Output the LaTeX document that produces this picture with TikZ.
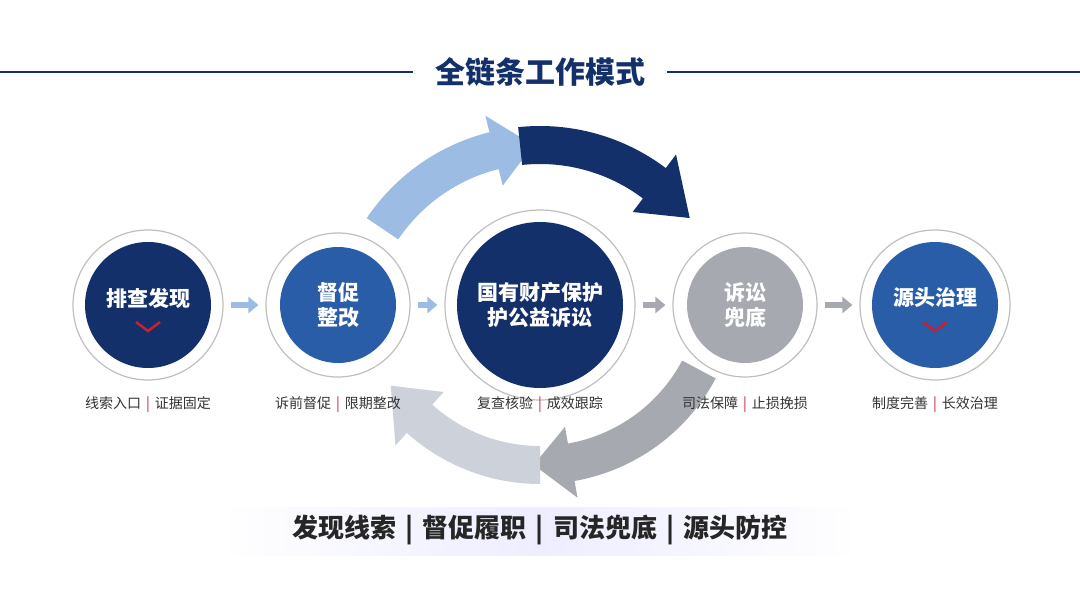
\documentclass[tikz,border=0pt]{standalone}
\usepackage{fontspec}
\setmainfont{Noto Sans CJK SC}
\usetikzlibrary{arrows.meta}
\definecolor{navy}{HTML}{14306B}
\definecolor{midblue}{HTML}{2A5DA8}
\definecolor{lightblue}{HTML}{9DBCE3}
\definecolor{greyc}{HTML}{A6A9AF}
\definecolor{lightgrey}{HTML}{CDD2DA}
\definecolor{redc}{HTML}{C8202E}
% curved band arrow: centre, radius, start angle, head base angle, tip angle, colour
\newcommand\bandarrow[6]{%
  \fill[#6] ($#1+(#3:#2+19)$) arc[start angle=#3,end angle=#4,radius=#2+19]
    -- ($#1+(#4:#2+36)$) -- ($#1+(#5:#2)$) -- ($#1+(#4:#2-36)$)
    -- ($#1+(#4:#2-19)$) arc[start angle=#4,end angle=#3,radius=#2-19] -- cycle;}
\newcommand\sep[1]{\hspace{0.35em}{\color{#1}|}\hspace{0.35em}}
\usetikzlibrary{calc}
\begin{document}
\begin{tikzpicture}[x=1pt,y=1pt,
  ring/.style={circle,draw=black!25,line width=1.2,fill=white,minimum size=#1},
  core/.style={circle,fill=#1,text=white,font=\bfseries\fontsize{21}{25}\selectfont,align=center},
  subtext/.style={font=\fontsize{14}{16}\selectfont,text=black!80},
  nextarrow/.style={line width=6,-{Triangle[width=16,length=10]},shorten <=7,shorten >=7}]
\useasboundingbox (0,0) rectangle (1080,-607);
\fill[white] (0,0) rectangle (1080,-607);

% title
\node[font=\bfseries\fontsize{30}{34}\selectfont,text=navy] (title) at (540,-72) {全链条工作模式};
\draw[navy,line width=1.5] (0,-72) -- ([xshift=-18]title.west);
\draw[navy,line width=1.5] ([xshift=18]title.east) -- (1080,-72);

% big arcs
\bandarrow{(540,-335)}{190}{146}{104}{92}{lightblue}
\bandarrow{(540,-335)}{190}{96}{53}{38}{navy}
\bandarrow{(540,-285)}{180}{-28}{-80}{-92}{greyc}
\bandarrow{(540,-285)}{180}{-90}{-132}{-146}{lightgrey}

% circles
\node[ring=150] (r1) at (148,-305) {};
\node[ring=144] (r2) at (338,-305) {};
\node[ring=190] (r3) at (540,-305) {};
\node[ring=144] (r4) at (745,-305) {};
\node[ring=150] (r5) at (935,-305) {};
\node[core=navy,minimum size=126] (c1) at (r1) {};
\node[core=midblue,minimum size=116] (c2) at (r2) {督促\\整改};
\node[core=navy,minimum size=166] (c3) at (r3) {国有财产保护\\护公益诉讼};
\node[core=greyc,minimum size=116] (c4) at (r4) {诉讼\\兜底};
\node[core=midblue,minimum size=126] (c5) at (r5) {};
\node[core=none,inner sep=0] (t1) at (148,-298) {排查发现};
\node[core=none,inner sep=0] (t5) at (935,-298) {源头治理};
\draw[redc,line width=2.5] (136,-322) -- (148,-331) -- (160,-322);
\draw[redc,line width=2.5] (923,-322) -- (935,-331) -- (947,-322);

% steps
\draw[nextarrow,lightblue] (r1) -- (r2);
\draw[nextarrow,lightblue] (r2) -- (r3);
\draw[nextarrow,greyc] (r3) -- (r4);
\draw[nextarrow,greyc] (r4) -- (r5);

% captions
\node[subtext] (k1) at (148,-405) {线索入口\sep{redc}证据固定};
\node[subtext] (k2) at (338,-405) {诉前督促\sep{redc}限期整改};
\node[subtext] (k3) at (540,-405) {复查核验\sep{redc}成效跟踪};
\node[subtext] (k4) at (745,-405) {司法保障\sep{redc}止损挽损};
\node[subtext] (k5) at (935,-405) {制度完善\sep{redc}长效治理};

% bottom line
\shade[left color=white,right color=white,middle color=blue!7] (220,-507) rectangle (860,-555);
\node[font=\bfseries\fontsize{26}{30}\selectfont,text=black!85] (slogan) at (540,-530)
  {发现线索\sep{black!85}督促履职\sep{black!85}司法兜底\sep{black!85}源头防控};
\end{tikzpicture}
\end{document}
